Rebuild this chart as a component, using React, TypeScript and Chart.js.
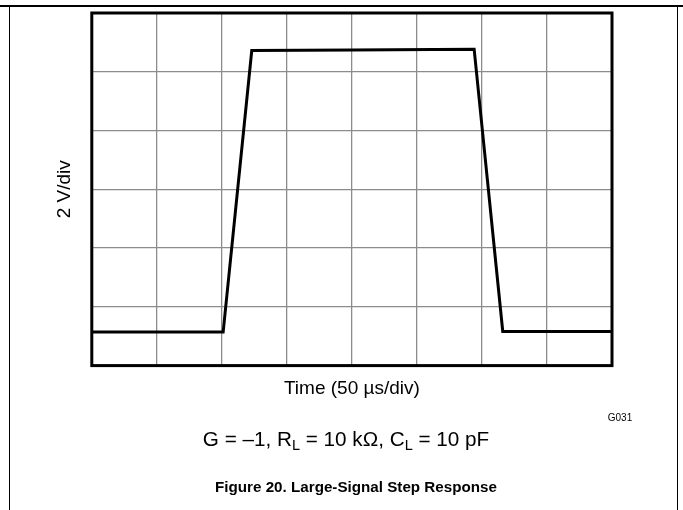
import React, { useEffect, useRef } from "react";
import { Chart, registerables } from "chart.js";

Chart.register(...registerables);

// Time axis: 50 µs per division, 8 divisions
const timeUs = [0, 101, 123, 200, 294, 316, 400];
// Voltage: 2 V per division, 6 divisions
const voltageV = [-4.86, -4.86, 4.72, 4.74, 4.77, -4.84, -4.84];

const xMin = 0;
const xMax = 400;
const xStep = 50;
const yMin = -6;
const yMax = 6;
const yStep = 2;

const xTitle = "Time (50 \u00b5s/div)";
const yTitle = "2 V/div";
const figureCode = "G031";
const figureCaption = "Figure 20. Large-Signal Step Response";

const FONT = "'Liberation Sans', Arial, Helvetica, sans-serif";

const framePlugin = {
  id: "plotFrame",
  afterDraw(chart: any) {
    const { ctx, chartArea } = chart;
    ctx.save();
    ctx.strokeStyle = "#000";
    ctx.lineWidth = 3;
    ctx.strokeRect(
      chartArea.left,
      chartArea.top,
      chartArea.right - chartArea.left,
      chartArea.bottom - chartArea.top
    );
    ctx.restore();
  },
};

export default function App() {
  const canvasRef = useRef<HTMLCanvasElement | null>(null);

  useEffect(() => {
    if (!canvasRef.current) return;
    const chart = new Chart(canvasRef.current, {
      type: "scatter",
      data: {
        datasets: [
          {
            data: timeUs.map((t, i) => ({ x: t, y: voltageV[i] })),
            showLine: true,
            borderColor: "#000",
            borderWidth: 3,
            pointRadius: 0,
            tension: 0,
            fill: false,
          },
        ],
      },
      options: {
        animation: false,
        responsive: false,
        maintainAspectRatio: false,
        devicePixelRatio: 1,
        layout: { padding: { left: 36, top: 13, right: 71, bottom: 110 } },
        plugins: {
          legend: { display: false },
          tooltip: { enabled: false },
        },
        scales: {
          x: {
            type: "linear",
            min: xMin,
            max: xMax,
            ticks: { display: false, stepSize: xStep },
            grid: { color: "#8c8c8c", lineWidth: 1.3, drawTicks: false },
            border: { display: false },
            title: {
              display: true,
              text: xTitle,
              color: "#000",
              font: { family: FONT, size: 19 },
              padding: { top: 11.6, bottom: 0 },
            },
          },
          y: {
            type: "linear",
            min: yMin,
            max: yMax,
            ticks: { display: false, stepSize: yStep },
            grid: { color: "#8c8c8c", lineWidth: 1.3, drawTicks: false },
            border: { display: false },
            title: {
              display: true,
              text: yTitle,
              color: "#000",
              font: { family: FONT, size: 19 },
              padding: { top: 17, bottom: 16 },
            },
          },
        },
      },
      plugins: [framePlugin],
    });
    return () => chart.destroy();
  }, []);

  const line = (s: React.CSSProperties): React.CSSProperties => ({
    position: "absolute",
    background: "#000",
    ...s,
  });

  const sub: React.CSSProperties = { fontSize: 14.5, verticalAlign: -4, lineHeight: 0 };

  return (
    <div
      style={{
        position: "absolute",
        left: 0,
        top: 0,
        width: 683,
        height: 510,
        background: "#fff",
        fontFamily: FONT,
        color: "#000",
        overflow: "hidden",
      }}
    >
      <canvas
        ref={canvasRef}
        width={683}
        height={510}
        style={{ position: "absolute", left: 0, top: 0, width: 683, height: 510 }}
      />
      <div style={line({ left: 0, top: 5, width: 683, height: 1.5 })} />
      <div style={line({ left: 8.5, top: 5, width: 1.5, height: 505 })} />
      <div style={line({ left: 676.5, top: 5, width: 1.5, height: 505 })} />
      <div
        style={{
          position: "absolute",
          left: 570,
          width: 100,
          top: 411,
          lineHeight: "14px",
          fontSize: 10,
          textAlign: "center",
        }}
      >
        {figureCode}
      </div>
      <div
        style={{
          position: "absolute",
          left: 46,
          width: 600,
          top: 427,
          lineHeight: "24px",
          fontSize: 20.7,
          textAlign: "center",
          whiteSpace: "nowrap",
        }}
      >
        G = {"\u2013"}1, R<sub style={sub}>L</sub> = 10 k{"\u03a9"}, C<sub style={sub}>L</sub> = 10 pF
      </div>
      <div
        style={{
          position: "absolute",
          left: 56,
          width: 600,
          top: 477,
          lineHeight: "20px",
          fontSize: 15.2,
          fontWeight: "bold",
          textAlign: "center",
          whiteSpace: "nowrap",
        }}
      >
        {figureCaption}
      </div>
    </div>
  );
}
